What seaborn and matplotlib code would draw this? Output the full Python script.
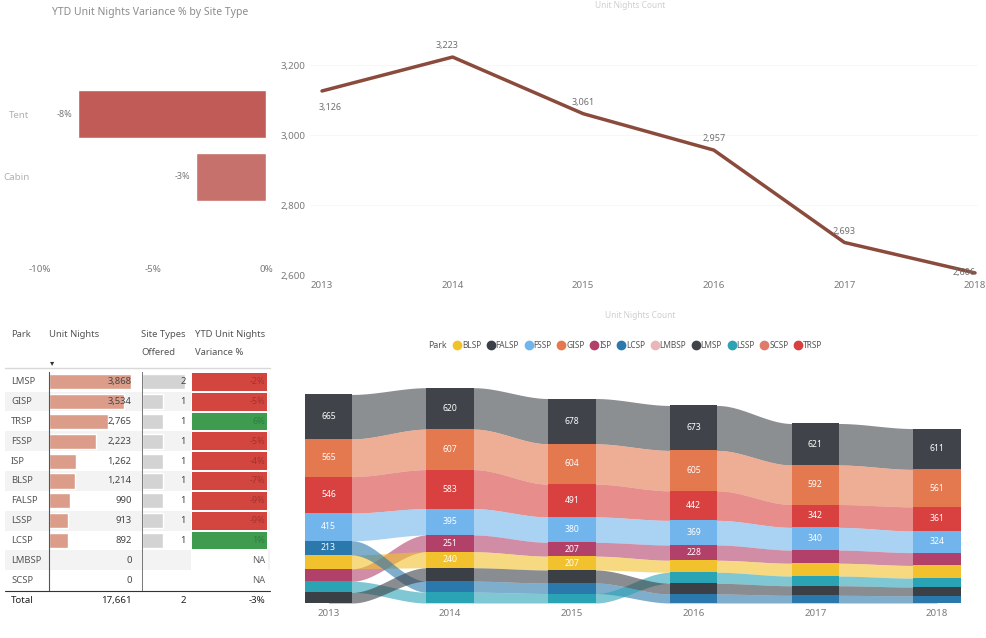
import numpy as np
import pandas as pd
import matplotlib
matplotlib.use("Agg")
import matplotlib.pyplot as plt
import seaborn as sns
from matplotlib.colors import ListedColormap
from matplotlib.lines import Line2D
from matplotlib.transforms import blended_transform_factory

# --- Data ---
site_types = ["Tent", "Cabin"]
site_variance = [-0.083, -0.031]

years = [2013, 2014, 2015, 2016, 2017, 2018]
yearly_nights = [3126, 3223, 3061, 2957, 2693, 2606]

table_parks = ["LMSP", "GISP", "TRSP", "FSSP", "ISP", "BLSP", "FALSP", "LSSP", "LCSP", "LMBSP", "SCSP"]
table_nights = [3868, 3534, 2765, 2223, 1262, 1214, 990, 913, 892, 0, 0]
table_site_types = [2, 1, 1, 1, 1, 1, 1, 1, 1, np.nan, np.nan]
table_variance = [-0.02, -0.05, 0.06, -0.05, -0.04, -0.07, -0.09, -0.09, 0.01, np.nan, np.nan]
total_nights = 17661
total_site_types = 2
total_variance = -0.03

legend_parks = ["BLSP", "FALSP", "FSSP", "GISP", "ISP", "LCSP", "LMBSP", "LMSP", "LSSP", "SCSP", "TRSP"]
park_colors = {
    "BLSP": "#F2C12E", "FALSP": "#3B4046", "FSSP": "#72B4EC", "GISP": "#E4784F",
    "ISP": "#B2416A", "LCSP": "#2A78AC", "LMBSP": "#E8B7BA", "LMSP": "#40444A",
    "LSSP": "#2AA3B5", "SCSP": "#E07B6B", "TRSP": "#D8413F",
}

# unit nights per park and year (2013..2018), ribbon chart
lmsp = [665, 620, 678, 673, 621, 611]
gisp = [565, 607, 604, 605, 592, 561]
trsp = [546, 583, 491, 442, 342, 361]
fssp = [415, 395, 380, 369, 340, 324]
isp = [187, 251, 207, 228, 197, 192]
blsp = [205, 240, 207, 180, 192, 190]
lcsp = [213, 165, 157, 135, 115, 107]
lssp = [166, 162, 142, 165, 145, 133]
falsp = [160, 200, 195, 160, 143, 132]

ribbon = pd.DataFrame({"LMSP": lmsp, "GISP": gisp, "TRSP": trsp, "FSSP": fssp, "ISP": isp,
                       "BLSP": blsp, "LCSP": lcsp, "LSSP": lssp, "FALSP": falsp}, index=years)
ribbon_parks = list(ribbon.columns)

# --- Figure setup ---
sns.set_style("white")
plt.rcParams["font.family"] = ["Noto Sans", "DejaVu Sans"]

W, H = 986, 638
fig = plt.figure(figsize=(W / 100, H / 100), dpi=100)


def box(left, top, right, bottom):
    return [left / W, 1 - bottom / H, (right - left) / W, (bottom - top) / H]


def fy(px):
    return 1 - px / H


# --- Variance by site type ---
fig.text(52 / W, fy(13), "YTD Unit Nights Variance % by Site Type", fontsize=7.5,
         color="#8c8c8c", va="center")
ax1 = fig.add_axes(box(38, 40, 270, 262))
bar_df = pd.DataFrame({"site": site_types, "variance": site_variance})
sns.barplot(data=bar_df, x="variance", y="site", hue="site", palette=["#D24B45", "#D6635D"],
            width=0.76, legend=False, ax=ax1)
ax1.set_xlim(-0.1009, 0.0018)
ax1.set_ylim(2.35, -1.175)
ax1.set_xticks([-0.10, -0.05, 0.0])
ax1.set_xticklabels(["-10%", "-5%", "0%"])
ax1.set_xlabel("")
ax1.set_ylabel("")
ax1.tick_params(axis="x", colors="#7a7a7a", labelsize=7, length=0, pad=2)
ax1.tick_params(axis="y", colors="#b0b0b0", labelsize=7, length=0, pad=6)
sns.despine(ax=ax1, left=True, bottom=True)
for i, v in enumerate(site_variance):
    ax1.annotate(f"{v:.0%}", (v, i), xytext=(-4, 0), textcoords="offset points",
                 ha="right", va="center", fontsize=6.5, color="#777777")

# --- Unit nights trend ---
fig.text(630 / W, fy(6), "Unit Nights Count", fontsize=6, color="#cfcfcf", ha="center", va="center")
ax2 = fig.add_axes(box(310, 35, 978, 275))
sns.lineplot(x=years, y=yearly_nights, color="#8B4B3C", linewidth=2.5, ax=ax2)
ax2.set_xlim(2012.908, 2018.023)
ax2.set_ylim(2600, 3286)
ax2.set_xticks(years)
ax2.set_yticks([2600, 2800, 3000, 3200])
ax2.set_yticklabels(["2,600", "2,800", "3,000", "3,200"])
ax2.tick_params(axis="both", colors="#7a7a7a", labelsize=7, length=0)
ax2.tick_params(axis="x", pad=4)
ax2.grid(axis="y", color="#f6f6f6", linewidth=0.6)
sns.despine(ax=ax2, left=True, bottom=True)
label_dy = [-12, 8, 8, 8, 8, 0]
label_dx = [6, -4, 0, 0, 0, -8]
for x, y, dx, dy in zip(years, yearly_nights, label_dx, label_dy):
    ax2.annotate(f"{y:,}", (x, y), xytext=(dx, dy), textcoords="offset points",
                 ha="center", va="center", fontsize=6.5, color="#707070")

# --- Park table ---
row_top, row_h = 371.8, 19.85
n_rows = len(table_parks)
axt = fig.add_axes(box(0, 320, 290, 620))
axt.set_xlim(0, 290)
axt.set_ylim(620, 320)
axt.axis("off")
for i in range(1, n_rows, 2):
    axt.axhspan(row_top + i * row_h, row_top + (i + 1) * row_h, xmin=5 / 290, xmax=270 / 290,
                color="#f3f3f3", lw=0, zorder=0)
hdr = dict(fontsize=6.8, color="#555555", va="center")
axt.text(11, 335, "Park", **hdr)
axt.text(49, 335, "Unit Nights", **hdr)
axt.text(141, 335, "Site Types", **hdr)
axt.text(141, 353, "Offered", **hdr)
axt.text(195, 335, "YTD Unit Nights", **hdr)
axt.text(195, 353, "Variance %", **hdr)
axt.text(50, 363, "▾", fontsize=6, color="#333333", va="center")
axt.plot([5, 270], [368, 368], color="#d8d8d8", lw=1)
axt.plot([5, 270], [591.5, 591.5], color="#333333", lw=0.8)
for i, p in enumerate(table_parks):
    axt.text(11, row_top + (i + 0.5) * row_h, p, fontsize=6.8, color="#555555", va="center")
total_y = row_top + (n_rows + 0.5) * row_h
axt.text(11, total_y, "Total", fontsize=7, color="#222222", weight="bold", va="center")
axt.text(131.5, total_y, f"{total_nights:,}", fontsize=7, color="#222222", weight="bold",
         va="center", ha="right")
axt.text(186, total_y, f"{total_site_types}", fontsize=7, color="#222222", weight="bold",
         va="center", ha="right")
axt.text(265, total_y, f"{total_variance:.0%}", fontsize=7, color="#222222", weight="bold",
         va="center", ha="right")

table_bottom = row_top + n_rows * row_h
table_df = pd.DataFrame({"park": table_parks, "nights": table_nights,
                         "sites": table_site_types, "variance": table_variance})

ax_n = fig.add_axes(box(49, row_top, 134, table_bottom))
ax_n.patch.set_alpha(0)
sns.barplot(data=table_df, x="nights", y="park", order=table_parks, color="#E9967C",
            width=0.76, ax=ax_n)
ax_n.set_xlim(0, 3990)
ax_n.set_ylim(n_rows - 0.5, -0.5)
ax_n.set_xticks([])
ax_n.set_yticks([])
ax_n.set_xlabel("")
ax_n.set_ylabel("")
for s in ["top", "right", "bottom"]:
    ax_n.spines[s].set_visible(False)
ax_n.spines["left"].set_linestyle((0, (1, 1)))
ax_n.spines["left"].set_color("#555555")
ax_n.spines["left"].set_linewidth(0.8)
tr_n = blended_transform_factory(ax_n.transAxes, ax_n.transData)
for i, v in enumerate(table_nights):
    ax_n.text(0.973, i, f"{v:,}", transform=tr_n, ha="right", va="center", fontsize=6.8,
              color="#444444")

ax_s = fig.add_axes(box(141.7, row_top, 188, table_bottom))
ax_s.patch.set_alpha(0)
sns.barplot(data=table_df.dropna(subset=["sites"]), x="sites", y="park", order=table_parks,
            color="#D3D3D3", width=0.76, ax=ax_s)
ax_s.set_xlim(0, 2.14)
ax_s.set_ylim(n_rows - 0.5, -0.5)
ax_s.set_xticks([])
ax_s.set_yticks([])
ax_s.set_xlabel("")
ax_s.set_ylabel("")
for s in ["top", "right", "bottom"]:
    ax_s.spines[s].set_visible(False)
ax_s.spines["left"].set_linestyle((0, (1, 1)))
ax_s.spines["left"].set_color("#777777")
ax_s.spines["left"].set_linewidth(0.7)
tr_s = blended_transform_factory(ax_s.transAxes, ax_s.transData)
for i, v in enumerate(table_site_types):
    if not np.isnan(v):
        ax_s.text(0.957, i, f"{int(v)}", transform=tr_s, ha="right", va="center",
                  fontsize=6.8, color="#444444")

ax_v = fig.add_axes(box(190.7, row_top, 268.3, table_bottom))
var_sign = pd.DataFrame({"v": np.sign(table_variance)}, index=table_parks)
sns.heatmap(var_sign, mask=var_sign.isna(), cmap=ListedColormap(["#D2463F", "#3E9B4F"]),
            vmin=-1, vmax=1, cbar=False, xticklabels=False, yticklabels=False,
            linewidths=1.2, linecolor="white", ax=ax_v)
ax_v.set_ylabel("")
tr_v = blended_transform_factory(ax_v.transAxes, ax_v.transData)
for i, v in enumerate(table_variance):
    if np.isnan(v):
        ax_v.text(0.96, i + 0.5, "NA", transform=tr_v, ha="right", va="center", fontsize=6.8,
                  color="#666666")
    else:
        ax_v.text(0.96, i + 0.5, f"{v:.0%}", transform=tr_v, ha="right", va="center",
                  fontsize=6.5, color="#A5332D" if v < 0 else "#2F7E3E")

# --- Ribbon chart ---
fig.text(640 / W, fy(316), "Unit Nights Count", fontsize=6, color="#cfcfcf", ha="center",
         va="center")
handles = [Line2D([], [], marker="o", ls="", markersize=6, color=park_colors[p])
           for p in legend_parks]
fig.legend(handles, legend_parks, loc="center left", bbox_to_anchor=(452 / W, fy(345)), ncol=11,
           frameon=False, fontsize=6, handletextpad=0.0, columnspacing=0.55,
           handlelength=1.2, labelcolor="#555555", borderaxespad=0, borderpad=0)
fig.text(447 / W, fy(345), "Park", fontsize=6.3, color="#555555", ha="right", va="center")

ax3 = fig.add_axes(box(300, 380, 966, 603))
bar_w = 0.39
stack = {}
for yr in years:
    row = ribbon.loc[yr]
    order = sorted(ribbon_parks, key=lambda p: (-row[p], ribbon_parks.index(p)))
    base = 0
    for p in reversed(order):
        stack[(yr, p)] = (base, base + row[p])
        base += row[p]

# ribbons run from column centre to column centre (hidden under the columns)
t = np.linspace(0, 1, 80)
s = np.concatenate([[0.0], t * t * (3 - 2 * t), [1.0]])
for a, b in zip(years[:-1], years[1:]):
    xs = np.concatenate([[a], a + bar_w / 2 + (b - a - bar_w) * t, [b]])
    for p in ribbon_parks:
        lo0, hi0 = stack[(a, p)]
        lo1, hi1 = stack[(b, p)]
        ax3.fill_between(xs, lo0 + (lo1 - lo0) * s, hi0 + (hi1 - hi0) * s,
                         color=park_colors[p], alpha=0.6, lw=0)

for yr in years:
    for p in ribbon_parks:
        lo, hi = stack[(yr, p)]
        ax3.bar(yr, hi - lo, bottom=lo, width=bar_w, color=park_colors[p], lw=0)
        if hi - lo >= 206:
            ax3.text(yr, (lo + hi) / 2, f"{hi - lo:,}", ha="center", va="center",
                     fontsize=6.2, color="white", weight="bold")

ax3.set_xlim(2012.766, 2018.238)
ax3.set_ylim(0, 3338)
ax3.set_xticks(years)
ax3.set_yticks([])
ax3.tick_params(axis="x", colors="#7a7a7a", labelsize=7, length=0, pad=4)
sns.despine(ax=ax3, left=True, bottom=True)

fig.savefig("out.png", dpi=100)
